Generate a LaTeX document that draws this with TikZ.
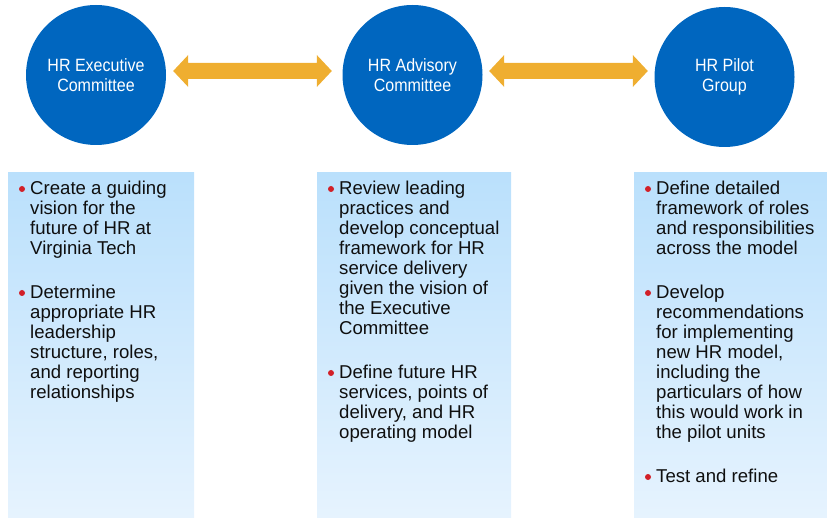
\documentclass[tikz,border=0pt]{standalone}
\usepackage{fontspec}
\setmainfont{Liberation Sans}
\newfontfamily\narrowfont[FakeStretch=0.9]{Liberation Sans}
\usetikzlibrary{calc}
\definecolor{circblue}{RGB}{0,102,191}
\definecolor{arrowor}{RGB}{239,174,48}
\definecolor{boxtop}{RGB}{186,224,252}
\definecolor{boxbot}{RGB}{230,243,254}
\definecolor{bulred}{RGB}{210,32,40}
\definecolor{textc}{RGB}{15,15,15}
\tikzset{
  circ/.style={circle, fill=circblue, minimum size=140pt, inner sep=0pt, text=white, align=center,
    font=\narrowfont\fontsize{17.8}{20}\selectfont},
  panel/.style={top color=boxtop, bottom color=boxbot, draw=none},
  bul/.style={circle, fill=bulred, inner sep=0pt, minimum size=6pt},
  txt/.style={anchor=north west, inner sep=0pt, align=left, text=textc,
    font=\fontsize{18.6}{20}\selectfont},
  dblarrow/.style={fill=arrowor}
}
\newcommand\bpara[4]{%
  \node[bul] (#1b) at (#2+14, #3-5) {};
  \node[txt] (#1) at (#2+22, #3-14) {\strut #4};}
\newcommand\fatarrow[2]{%
  \fill[dblarrow] (#1) -- ($(#1)+(15,-16)$) -- ($(#1)+(15,-8)$) -- ($(#2)+(-15,-8)$) -- ($(#2)+(-15,-16)$)
    -- (#2) -- ($(#2)+(-15,16)$) -- ($(#2)+(-15,8)$) -- ($(#1)+(15,8)$) -- ($(#1)+(15,16)$) -- cycle;}
\begin{document}
\begin{tikzpicture}[x=1pt,y=-1pt]
\useasboundingbox (0,0) rectangle (827,518);
% circles
\node[circ] (c1) at (96,75) {HR Executive\\Committee};
\node[circ] (c2) at (412.5,75) {HR Advisory\\Committee};
\node[circ] (c3) at (724.5,77) {HR Pilot\\Group};
% arrows
\coordinate (a1s) at ($(c1.east)+(7,-4)$);
\coordinate (a1e) at ($(c2.west)+(-10.5,-4)$);
\coordinate (a2s) at ($(c2.east)+(6.5,-4)$);
\coordinate (a2e) at ($(c3.west)+(-6.5,-6)$);
\fatarrow{a1s}{a1e}
\fatarrow{a2s}{a2e}
% panels
\path[panel] (8,173) rectangle (194,518);
\path[panel] (317,173) rectangle (511,518);
\path[panel] (634,173) rectangle (827,518);
% panel 1
\bpara{p11}{8}{194}{Create a guiding\\vision for the\\future of HR at\\Virginia Tech}
\bpara{p12}{8}{298}{Determine\\appropriate HR\\leadership\\structure, roles,\\and reporting\\relationships}
% panel 2
\bpara{p21}{317}{194}{Review leading\\practices and\\develop conceptual\\framework for HR\\service delivery\\given the vision of\\the Executive\\Committee}
\bpara{p22}{317}{378}{Define future HR\\services, points of\\delivery, and HR\\operating model}
% panel 3
\bpara{p31}{634}{194}{Define detailed\\framework of roles\\and responsibilities\\across the model}
\bpara{p32}{634}{298}{Develop\\recommendations\\for implementing\\new HR model,\\including the\\particulars of how\\this would work in\\the pilot units}
\bpara{p33}{634}{482}{Test and refine}
\end{tikzpicture}
\end{document}
